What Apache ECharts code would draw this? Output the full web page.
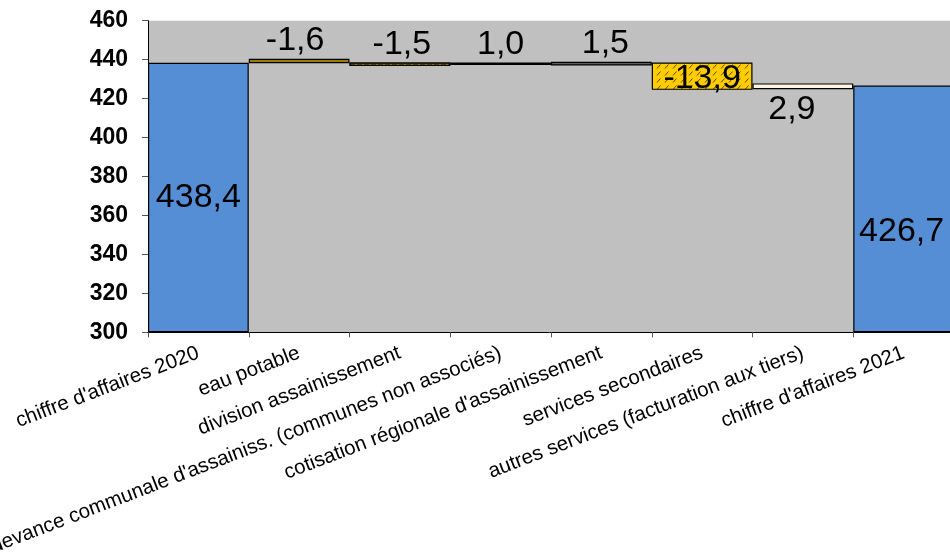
<!DOCTYPE html>
<html>
<head>
<meta charset="utf-8">
<script src="https://cdn.jsdelivr.net/npm/echarts@6/dist/echarts.min.js"></script>
<style>html,body{margin:0;padding:0;background:#fff;}#c{width:950px;height:553px;}</style>
</head>
<body>
<div id="c"></div>
<script>
var categories = [
  "chiffre d'affaires 2020",
  "eau potable",
  "division assainissement",
  "redevance communale d'assainiss. (communes non associés)",
  "cotisation régionale d'assainissement",
  "services secondaires",
  "autres services (facturation aux tiers)",
  "chiffre d'affaires 2021"
];
// displayed values
var labelValues = [438.4, -1.6, -1.5, 1.0, 1.5, -13.9, 2.9, 426.7];
// bar bottoms and tops as drawn in the picture
var barLows  = [300, 438.2, 436.7, 437.2, 437.0, 424.5, 424.8, 300];
var barHighs = [438.4, 440.5, 438.6, 438.6, 438.9, 438.5, 427.8, 426.7];
var yTicks = {min: 300, max: 460, interval: 20};

// hatch pattern for "services secondaires"
function makeHatch() {
  var cv = document.createElement('canvas');
  cv.width = 8; cv.height = 7;
  var g = cv.getContext('2d');
  g.fillStyle = '#ffcc00';
  g.fillRect(0, 0, 8, 7);
  g.strokeStyle = 'rgba(70,50,0,0.85)';
  g.lineWidth = 1;
  g.beginPath();
  g.moveTo(1, 5.5); g.lineTo(4.5, 1.5);
  g.stroke();
  return cv;
}

var fills = ['#558ed5', '#9c7c00', '#8a6e00', '#000000', '#5f5f5f',
  {image: makeHatch(), repeat: 'repeat'}, '#fff6e2', '#558ed5'];
var decals = [null, null,
  {symbol: 'rect', symbolSize: 1, dashArrayX: [5, 2], dashArrayY: [2, 1], color: '#4a3a00'},
  null, null, null, null, null];
var labelCfg = [
  {position: 'inside', offset: [0, 0]},
  {position: 'top', offset: [-4, 4]},
  {position: 'top', offset: [2, 4]},
  {position: 'top', offset: [0, 4]},
  {position: 'top', offset: [4, 4]},
  {position: 'insideTop', offset: [0, -6]},
  {position: 'bottom', offset: [-11, -2]},
  {position: 'inside', offset: [-2, 23]}
];

function fmt(v) { return String(v.toFixed(1)).replace('.', ','); }

var baseData = barLows.slice();
var deltaData = categories.map(function (c, i) {
  var item = {
    value: +(barHighs[i] - barLows[i]).toFixed(2),
    itemStyle: {color: fills[i], borderColor: '#000', borderWidth: 1.2},
    label: {
      show: true,
      position: labelCfg[i].position,
      offset: labelCfg[i].offset,
      formatter: fmt(labelValues[i])
    }
  };
  if (decals[i]) item.itemStyle.decal = decals[i];
  return item;
});

var chart = echarts.init(document.getElementById('c'));
chart.setOption({
  animation: false,
  aria: {enabled: false},
  grid: {left: 148, top: 20.7, width: 806, height: 311.6, containLabel: false, outerBoundsMode: 'none',
         show: true, backgroundColor: '#c0c0c0', borderWidth: 0},
  xAxis: {
    type: 'category',
    data: categories,
    boundaryGap: true,
    axisLine: {lineStyle: {color: '#000', width: 1}},
    axisTick: {show: true, alignWithLabel: false, length: 5, lineStyle: {color: '#555'}},
    axisLabel: {interval: 0, rotate: 21, margin: 20, color: '#000', fontSize: 20.5, fontFamily: 'Liberation Sans, Arial, sans-serif'}
  },
  yAxis: {
    type: 'value',
    min: yTicks.min, max: yTicks.max, interval: yTicks.interval,
    axisLine: {show: true, lineStyle: {color: '#000', width: 1}},
    axisTick: {show: true, length: 6, lineStyle: {color: '#555'}},
    splitLine: {show: false},
    axisLabel: {color: '#000', fontSize: 23, fontWeight: 'bold', margin: 20, fontFamily: 'Liberation Sans, Arial, sans-serif'}
  },
  series: [
    {
      type: 'bar', stack: 'w', data: baseData, barCategoryGap: 0,
      itemStyle: {color: 'transparent'}, silent: true
    },
    {
      type: 'bar', stack: 'w', data: deltaData, barCategoryGap: 0,
      label: {color: '#000', fontSize: 34, fontFamily: 'Liberation Sans, Arial, sans-serif'}
    }
  ]
});
</script>
</body>
</html>
